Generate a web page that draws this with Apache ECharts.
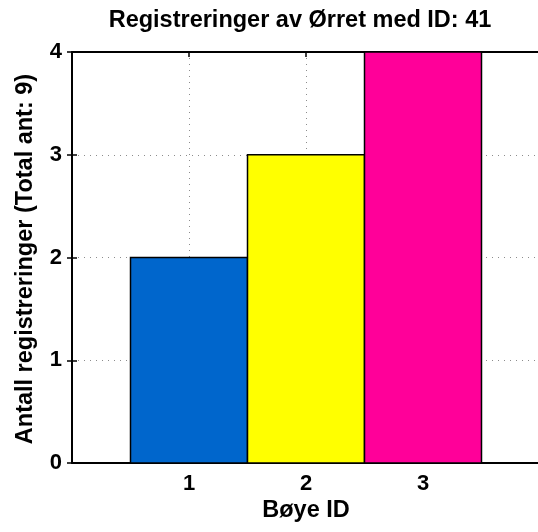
<!DOCTYPE html>
<html><head><meta charset="utf-8">
<script src="https://cdn.jsdelivr.net/npm/echarts@6/dist/echarts.min.js"></script>
<style>html,body{margin:0;padding:0;background:#fff}#c{width:538px;height:532px}</style>
</head><body><div id="c"></div>
<script>
const buoyIds = [1, 2, 3];
const counts = [2, 3, 4];
const barColors = ['#0066cc', '#ffff00', '#ff0099'];
const titleText = 'Registreringer av Ørret med ID: 41';
const xName = 'Bøye ID';
const yName = 'Antall registreringer (Total ant: 9)';

const chart = echarts.init(document.getElementById('c'), null, {renderer: 'canvas'});
const font = 'Liberation Sans, Arial, sans-serif';
const split = {show: true, lineStyle: {color: '#8c8c8c', type: [1, 5], width: 1}};
const axLine = {show: true, onZero: false, lineStyle: {color: '#000', width: 2}};
const tick = {show: true, inside: true, length: 5, lineStyle: {color: '#000', width: 1.5}};

chart.setOption({
  animation: false,
  backgroundColor: '#fff',
  grid: {left: 72, top: 52, width: 468, height: 411, containLabel: false, outerBoundsMode: 'none'},
  graphic: [
    {type: 'text', x: 300, y: 21, style: {text: titleText, font: 'bold 23.5px ' + font, fill: '#000', textAlign: 'center', textVerticalAlign: 'middle'}},
    {type: 'text', x: 306, y: 511, style: {text: xName, font: 'bold 23.5px ' + font, fill: '#000', textAlign: 'center', textVerticalAlign: 'middle'}},
    {type: 'text', rotation: Math.PI / 2, x: 26, y: 259, style: {text: yName, font: 'bold 23.5px ' + font, fill: '#000', textAlign: 'center', textVerticalAlign: 'middle'}}
  ],
  xAxis: [
    {type: 'value', min: 0, max: 4, interval: 1, position: 'bottom',
     axisLine: axLine, axisTick: tick, splitLine: split,
     axisLabel: {fontSize: 22, fontWeight: 'bold', color: '#000', fontFamily: font, margin: 10,
       formatter: v => (buoyIds.indexOf(v) >= 0 ? String(v) : '')}},
    {type: 'value', min: 0, max: 4, interval: 1, position: 'top',
     axisLine: axLine, axisTick: tick, splitLine: {show: false}, axisLabel: {show: false}}
  ],
  yAxis: [
    {type: 'value', min: 0, max: 4, interval: 1, position: 'left',
     axisLine: axLine, axisTick: tick, splitLine: split,
     axisLabel: {fontSize: 22, fontWeight: 'bold', color: '#000', fontFamily: font, margin: 10}},
    {type: 'value', min: 0, max: 4, interval: 1, position: 'right',
     axisLine: {show: false}, axisTick: tick, splitLine: {show: false}, axisLabel: {show: false}}
  ],
  series: [{
    type: 'custom',
    xAxisIndex: 0, yAxisIndex: 0,
    data: buoyIds.map((id, i) => [id, counts[i], i]),
    renderItem: function (params, api) {
      const x = api.value(0), y = api.value(1), ci = api.value(2);
      const p0 = api.coord([x - 0.5, y]);
      const p1 = api.coord([x + 0.5, 0]);
      return {type: 'rect', shape: {x: p0[0], y: p0[1], width: p1[0] - p0[0], height: p1[1] - p0[1]},
        style: {fill: barColors[ci], stroke: '#000', lineWidth: 1.5}};
    }
  }]
});
</script></body></html>
